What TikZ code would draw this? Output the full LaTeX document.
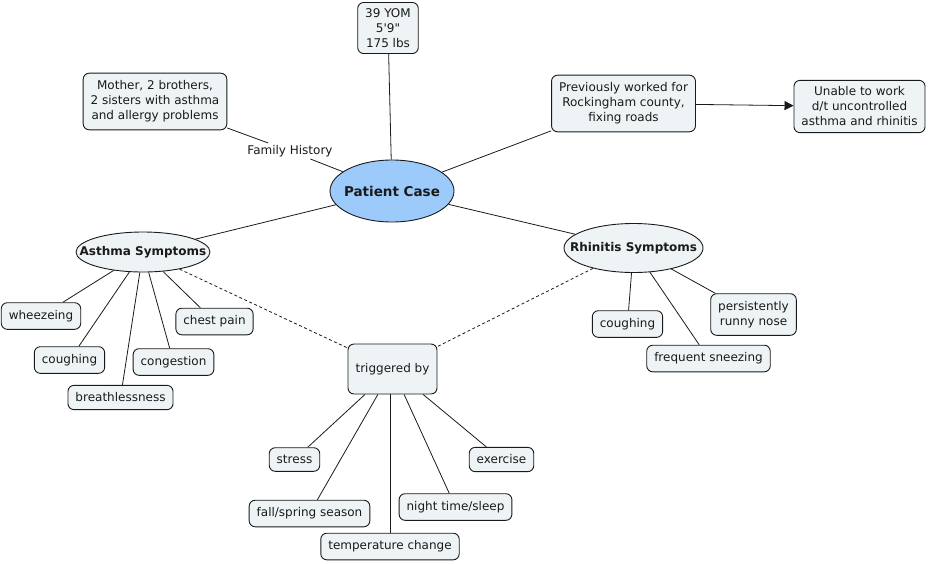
\documentclass[tikz,border=0pt]{standalone}
\usepackage{fontspec}
\setmainfont{DejaVu Sans}[Ligatures=TeXOff]
\usetikzlibrary{arrows.meta, shapes.geometric}
\definecolor{cmapfill}{HTML}{EEF4F6}
\definecolor{cmapcore}{HTML}{9CCBFB}
\definecolor{cmapline}{HTML}{1A1A1A}

\begin{document}
\begin{tikzpicture}[
        x=1pt, y=-1pt,
        every node/.style = {font=\fontsize{12}{15}\selectfont, text=cmapline},
        concept/.style = {draw=cmapline, rectangle, rounded corners=6pt, fill=cmapfill, align=center, inner xsep=7.5pt, inner ysep=7.5pt, line width=0.9pt},
        topic/.style = {draw=cmapline, ellipse, fill=cmapfill, align=center, inner xsep=-20pt, inner ysep=0pt, line width=0.9pt, font=\fontsize{12}{15}\selectfont\bfseries},
        core/.style = {topic, fill=cmapcore, minimum width=124pt, minimum height=62pt, font=\fontsize{13.5}{16}\selectfont\bfseries},
        phrase/.style = {inner sep=2pt, fill=white},
        link/.style = {draw=cmapline, line width=0.8pt},
        hint/.style = {link, dashed, dash pattern=on 3pt off 2.5pt},
        arrow/.style = {link, -{Triangle[length=9pt, width=9pt]}}
    ]
        \useasboundingbox (0,0) rectangle (928,563);

        % centre and top row
        \node (patient) [core] at (392,191) {Patient Case};
        \node (stats) [concept, inner ysep=6pt] at (388,28) {39 YOM\\5'9"\\175 lbs};
        \node (family) [concept] at (155,101.5) {Mother, 2 brothers,\\2 sisters with asthma\\and allergy problems};
        \node (history) [phrase] at (290,151) {Family History};
        \node (work) [concept] at (623.5,103.5) {Previously worked for\\Rockingham county,\\fixing roads};
        \node (unable) [concept, inner ysep=6.5pt] at (859.5,106.5) {Unable to work\\d/t uncontrolled\\asthma and rhinitis};

        % symptom groups
        \node (asthma) [topic, minimum width=134pt, minimum height=40pt] at (143,252) {Asthma Symptoms};
        \node (rhinitis) [topic, minimum width=139pt, minimum height=49pt] at (633.5,248) {Rhinitis Symptoms};
        \node (trigger) [concept, minimum width=89pt, minimum height=50pt] at (392.5,369) {triggered by};

        \node (wheeze) [concept] at (41,316) {wheezeing};
        \node (coughA) [concept] at (69.5,360) {coughing};
        \node (breath) [concept] at (120.5,397.5) {breathlessness};
        \node (congest) [concept] at (173.5,362) {congestion};
        \node (chest) [concept] at (214.5,321.5) {chest pain};

        \node (coughR) [concept] at (627.5,324) {coughing};
        \node (runny) [concept] at (753.5,314.5) {persistently\\runny nose};
        \node (sneeze) [concept] at (708.5,358.5) {frequent sneezing};

        % triggers
        \node (stress) [concept] at (294.5,459.5) {stress};
        \node (exercise) [concept] at (501.5,459.5) {exercise};
        \node (season) [concept] at (309.5,513.5) {fall/spring season};
        \node (night) [concept] at (455.5,507) {night time/sleep};
        \node (temp) [concept] at (390,546.5) {temperature change};

        \draw [link] (patient) -- (stats);
        \draw [link] (patient) -- (history) -- (family);
        \draw [link] (patient) -- (work);
        \draw [arrow] (work) -- (unable);
        \draw [link] (patient) -- (asthma);
        \draw [link] (patient) -- (rhinitis);

        \foreach \leaf in {wheeze, coughA, breath, congest, chest}
            \draw [link] (asthma) -- (\leaf);
        \foreach \leaf in {coughR, runny, sneeze}
            \draw [link] (rhinitis) -- (\leaf);
        \foreach \leaf in {stress, exercise, season, night}
            \draw [link] (trigger) -- (\leaf);
        \draw [link] (trigger.south -| temp) -- (temp);

        \draw [hint] (asthma) -- (trigger);
        \draw [hint] (rhinitis) -- (trigger);

    \end{tikzpicture}
\end{document}
